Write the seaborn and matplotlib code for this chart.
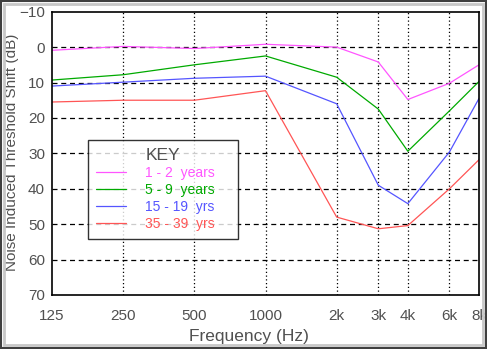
import matplotlib
matplotlib.use("Agg")
import matplotlib.pyplot as plt
import matplotlib.patches as mpatches
import seaborn as sns
import pandas as pd

freqs = [125, 250, 500, 1000, 2000, 3000, 4000, 6000, 8000]
freq_labels = ["125", "250", "500", "1000", "2k", "3k", "4k", "6k", "8k"]
groups = ["1 - 2  years", "5 - 9  years", "15 - 19  yrs", "35 - 39  yrs"]
shift_1_2 = [0.9, -0.2, 0.4, -0.8, 0.0, 4.2, 14.8, 10.2, 5.0]
shift_5_9 = [9.3, 7.8, 5.0, 2.5, 8.5, 17.5, 29.4, 18.0, 9.7]
shift_15_19 = [11.0, 9.9, 8.8, 8.2, 16.0, 39.0, 44.2, 29.6, 14.5]
shift_35_39 = [15.5, 15.0, 15.0, 12.3, 48.0, 51.3, 50.4, 40.0, 31.8]
colors = ["#ff55ff", "#00aa00", "#5555ff", "#ff5555"]

rows = []
for g, vals in zip(groups, [shift_1_2, shift_5_9, shift_15_19, shift_35_39]):
    for f, v in zip(freqs, vals):
        rows.append({"freq": f, "shift": v, "group": g})
df = pd.DataFrame(rows)

sns.set_theme(style="white")
plt.rcParams["font.family"] = ["Liberation Sans", "DejaVu Sans"]
txt = "#505050"

fig = plt.figure(figsize=(4.87, 3.49), dpi=100)
fig.patch.set_facecolor("white")
ax = fig.add_axes([52 / 487, 1 - 295 / 349, (479 - 52) / 487, (295 - 11.7) / 349])

sns.lineplot(data=df, x="freq", y="shift", hue="group", palette=colors,
             hue_order=groups, ax=ax, linewidth=0.9, legend=False)

ax.set_xscale("log")
ax.set_xlim(125, 8000)
ax.set_ylim(70, -10)
ax.set_xticks(freqs)
ax.set_xticklabels(freq_labels)
ax.minorticks_off()
ax.set_yticks(range(-10, 71, 10))
ax.tick_params(axis="both", length=0, labelsize=11, colors=txt)
ax.tick_params(axis="x", pad=10)
ax.tick_params(axis="y", pad=5)

for f in freqs[1:-1]:
    ax.axvline(f, color="black", linestyle=(0, (1, 2)), linewidth=0.9, zorder=0)
for y in range(0, 61, 10):
    ax.axhline(y, color="black", linestyle=(0, (4, 3)), linewidth=0.9, zorder=0)

for s in ax.spines.values():
    s.set_color("black")
    s.set_linewidth(1.2)

ax.set_xlabel("Frequency (Hz)", fontsize=12.5, color=txt)
ax.xaxis.set_label_coords((249 - 52) / 427, -(329 - 295) / 283.3)
ax.set_ylabel("Noise Induced Threshold Shift (dB)", fontsize=11, color=txt)
ax.yaxis.set_label_coords(-(52 - 19) / 427, (295 - 152) / 283.3)

handles = [plt.Line2D([], [], color=c, linewidth=0.9) for c in colors]
leg = ax.legend(handles, groups, title="KEY", loc="upper left",
                bbox_to_anchor=((88 - 52) / 427, 1 - (140 - 11.7) / 283.3),
                frameon=True, fancybox=False, fontsize=10, title_fontsize=12.5,
                borderpad=0.55, labelspacing=0.22, handlelength=2.2,
                handletextpad=1.35, borderaxespad=0)
leg.get_frame().set_edgecolor("black")
leg.get_frame().set_linewidth(1.0)
leg.get_title().set_color(txt)
for t, c in zip(leg.get_texts(), colors):
    t.set_color(c)
    t.set_text(t.get_text() + "    ")

# window-like frame
fig.patches.append(mpatches.Rectangle((0.002, 0.003), 0.996, 0.994, transform=fig.transFigure,
                                      fill=False, edgecolor="#404040", linewidth=1.5))
fig.patches.append(mpatches.Rectangle((0.008, 0.011), 0.984, 0.978, transform=fig.transFigure,
                                      fill=False, edgecolor="#c8c8c8", linewidth=2.0))

fig.savefig("out.png", dpi=100)
